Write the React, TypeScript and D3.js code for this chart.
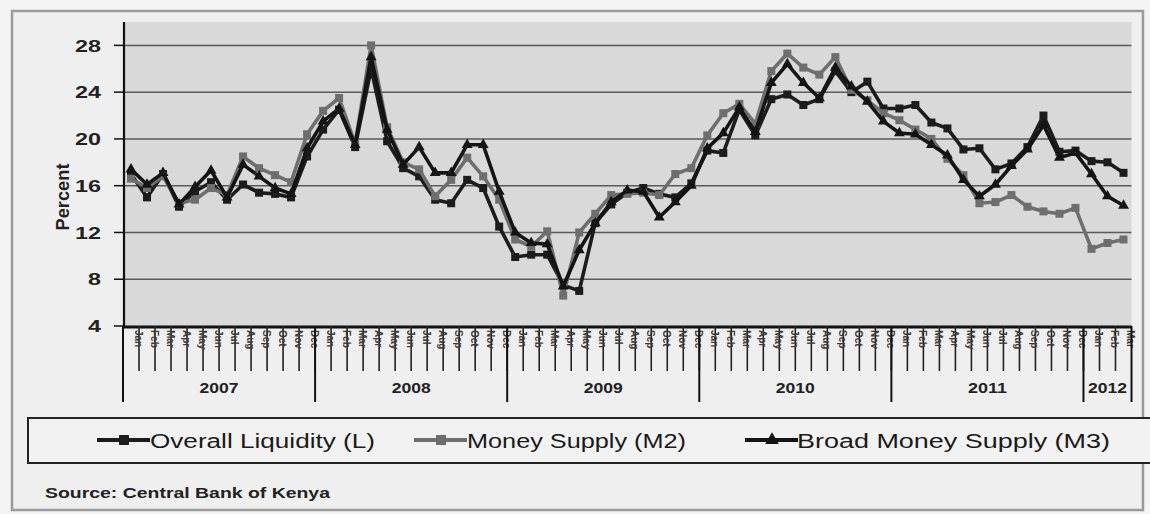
import React from "react";
import * as d3 from "d3";

const years = ["2007", "2008", "2009", "2010", "2011", "2012"];
const monthsPerYear = [12, 12, 12, 12, 12, 3];
const monthNames = ["Jan", "Feb", "Mar", "Apr", "May", "Jun", "Jul", "Aug", "Sep", "Oct", "Nov", "Dec"];

const liquidityL = [
  17.0, 15.0, 17.0, 14.2, 15.5, 16.3, 14.8, 16.1, 15.4, 15.3, 15.0, 18.5,
  20.8, 22.5, 19.3, 26.0, 19.8, 17.5, 16.8, 14.8, 14.5, 16.5, 15.8, 12.5,
  9.9, 10.1, 10.1, 7.5, 7.0, 12.8, 14.4, 15.4, 15.8, 15.3, 15.0, 16.2,
  19.0, 18.8, 22.5, 20.3, 23.4, 23.8, 22.9, 23.4, 25.8, 24.0, 24.9, 22.6,
  22.6, 22.9, 21.4, 20.9, 19.1, 19.2, 17.4, 17.9, 19.3, 22.0, 18.9, 19.0,
  18.1, 18.0, 17.1,
];
const moneySupplyM2 = [
  16.6, 15.8, 16.8, 14.5, 14.8, 15.8, 15.2, 18.5, 17.5, 16.9, 16.3, 20.4,
  22.4, 23.5, 19.6, 28.0, 21.0, 18.0, 17.4, 15.1, 16.5, 18.4, 16.8, 14.8,
  11.4, 10.8, 12.1, 6.6, 12.0, 13.6, 15.2, 15.3, 15.4, 15.2, 17.0, 17.5,
  20.3, 22.2, 23.0, 21.3, 25.8, 27.3, 26.1, 25.5, 27.0, 24.2, 23.3, 22.2,
  21.6, 20.8, 20.0, 18.3, 16.9, 14.5, 14.6, 15.2, 14.2, 13.8, 13.6, 14.1,
  10.6, 11.1, 11.4,
];
const broadMoneyM3 = [
  17.4, 16.1, 17.1, 14.4, 15.9, 17.3, 15.0, 17.8, 16.8, 15.8, 15.3, 19.2,
  21.5, 22.6, 19.5, 27.0, 20.8, 17.8, 19.3, 17.1, 17.1, 19.5, 19.5, 15.5,
  12.0, 11.1, 11.0, 7.4, 10.5, 12.8, 14.6, 15.6, 15.5, 13.3, 14.6, 16.0,
  19.2, 20.5, 22.7, 20.6, 24.8, 26.4, 24.8, 23.5, 26.1, 24.5, 23.2, 21.5,
  20.5, 20.4, 19.5, 18.6, 16.5, 15.1, 16.1, 17.7, 19.1, 21.2, 18.4, 18.8,
  17.0, 15.1, 14.3,
];
const yTicks = [4, 8, 12, 16, 20, 24, 28];
const seriesNames = ["Overall Liquidity (L)", "Money Supply (M2)", "Broad Money Supply (M3)"];
const sourceText = "Source:  Central Bank of  Kenya";

const FONT = "'Liberation Sans', Arial, sans-serif";

export default function App() {
  const categories: { label: string; year: number }[] = [];
  years.forEach((y, yi) => {
    for (let m = 0; m < monthsPerYear[yi]; m++) categories.push({ label: monthNames[m], year: yi });
  });
  const idx = categories.map((_, i) => i);

  const left = 124, right = 1131.5, top = 22, bottom = 326;
  const x = d3.scaleBand<number>().domain(idx).range([left - 1, right]).paddingInner(0).paddingOuter(0);
  const bw = x.bandwidth();
  const cx = (i: number) => (x(i) as number) + bw / 2;
  const y = d3.scaleLinear().domain([4, 30]).range([bottom, top]);

  const line = d3.line<number>().x((_, i) => cx(i)).y((d) => y(d));

  const series = [
    { name: seriesNames[0], data: liquidityL, color: "#1c1c1c", marker: "square" },
    { name: seriesNames[1], data: moneySupplyM2, color: "#6e6e6e", marker: "square" },
    { name: seriesNames[2], data: broadMoneyM3, color: "#141414", marker: "triangle" },
  ];

  const yearStarts: number[] = [];
  let acc = 0;
  monthsPerYear.forEach((n) => {
    yearStarts.push(acc);
    acc += n;
  });

  const marker = (type: string, px: number, py: number, color: string, key: any, s = 8) =>
    type === "square" ? (
      <rect key={key} x={px - s / 2} y={py - s / 2} width={s} height={s} fill={color} />
    ) : (
      <path key={key} d={d3.symbol(d3.symbolTriangle, s * s * 0.8)() as string} transform={`translate(${px},${py})`} fill={color} />
    );

  const legendItems = [
    { lx: 97, tx: 150, w: 225, s: series[0] },
    { lx: 414, tx: 467, w: 219, s: series[1] },
    { lx: 745, tx: 797, w: 313, s: series[2] },
  ];

  return (
    <svg width={1150} height={514} style={{ position: "absolute", left: 0, top: 0 }} fontFamily={FONT}>
      <rect x={0} y={0} width={1150} height={514} fill="#f4f4f4" />
      <rect x={12} y={11} width={1131} height={499} fill="#efefef" stroke="#9a9a9a" strokeWidth={2.5} />
      <rect x={left} y={top} width={right - left} height={bottom - top} fill="#d9d9d9" />
      {yTicks.filter((t) => t > 4).map((t) => (
        <line key={t} x1={left} x2={right} y1={y(t)} y2={y(t)} stroke="#5a5a5a" strokeWidth={1.5} />
      ))}
      <line x1={left} x2={left} y1={top} y2={bottom} stroke="#111" strokeWidth={2.2} />
      {yTicks.map((t) => (
        <g key={t}>
          <line x1={left - 10} x2={left} y1={y(t)} y2={y(t)} stroke="#111" strokeWidth={1.5} />
          <text
            x={101 - String(t).length * 13}
            y={y(t)}
            dy="0.36em"
            fontSize={17}
            fontWeight="bold"
            fill="#222"
            textLength={String(t).length * 13}
            lengthAdjust="spacingAndGlyphs"
          >
            {t}
          </text>
        </g>
      ))}
      <text
        transform={`translate(69,197) rotate(-90)`}
        textAnchor="middle"
        fontSize={18}
        fontWeight="bold"
        fill="#222"
        textLength={67}
        lengthAdjust="spacingAndGlyphs"
      >
        Percent
      </text>

      {/* x axis area */}
      <line x1={left} x2={right} y1={bottom + 1} y2={bottom + 1} stroke="#111" strokeWidth={3} />
      {idx.map((i) => (
        <line key={"t" + i} x1={x(i) as number} x2={x(i) as number} y1={bottom} y2={bottom + 45} stroke="#222" strokeWidth={1.6} />
      ))}
      {categories.map((c, i) => (
        <text
          key={"m" + i}
          transform={`translate(${cx(i) + 3.5},${bottom + 4}) rotate(90)`}
          fontSize={10}
          fontWeight="bold"
          fill="#3a3a3a"
          textAnchor="start"
        >
          {c.label}
        </text>
      ))}
      {yearStarts.map((s, k) => (
        <line key={"ys" + k} x1={x(s) as number} x2={x(s) as number} y1={bottom} y2={bottom + 76} stroke="#111" strokeWidth={2} />
      ))}
      <line x1={right} x2={right} y1={bottom} y2={bottom + 76} stroke="#111" strokeWidth={2} />
      {years.map((yr, k) => {
        const a = x(yearStarts[k]) as number;
        const b = k + 1 < yearStarts.length ? (x(yearStarts[k + 1]) as number) : right;
        return (
          <text
            key={yr}
            x={(a + b) / 2}
            y={bottom + 67}
            textAnchor="middle"
            fontSize={14}
            fontWeight="bold"
            fill="#222"
            textLength={39}
            lengthAdjust="spacingAndGlyphs"
          >
            {yr}
          </text>
        );
      })}

      {series.map((s) => (
        <g key={s.name}>
          <path d={line(s.data) as string} fill="none" stroke={s.color} strokeWidth={3.6} strokeLinejoin="round" />
          {s.data.map((v, i) => marker(s.marker, cx(i), y(v), s.color, i))}
        </g>
      ))}

      <rect x={28} y={418} width={1130} height={45} fill="#f2f2f2" stroke="#222" strokeWidth={2} />
      {legendItems.map((it) => (
        <g key={it.s.name}>
          <line x1={it.lx} x2={it.lx + 53} y1={440} y2={440} stroke={it.s.color} strokeWidth={4} />
          {marker(it.s.marker, it.lx + 27, 440, it.s.color, "lm", 10)}
          <text x={it.tx} y={447.5} fontSize={20} fill="#1a1a1a" textLength={it.w} lengthAdjust="spacingAndGlyphs">
            {it.s.name}
          </text>
        </g>
      ))}
      <text x={45} y={498} fontSize={14.5} fontWeight="bold" fill="#222" textLength={285} lengthAdjust="spacingAndGlyphs">
        {sourceText}
      </text>
    </svg>
  );
}
